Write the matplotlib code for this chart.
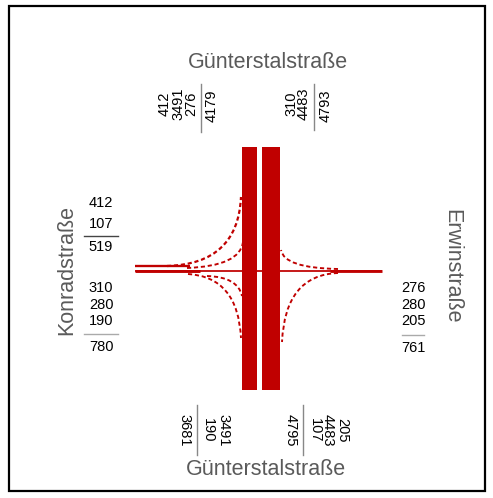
import matplotlib
matplotlib.use("Agg")
from matplotlib import pyplot as plt
from matplotlib.path import Path
from matplotlib.patches import PathPatch, Rectangle

plt.rcParams['font.family'] = ['Liberation Sans', 'DejaVu Sans']
plt.rcParams['lines.scale_dashes'] = False

# street names
street_north = "Günterstalstraße"
street_south = "Günterstalstraße"
street_west = "Konradstraße"
street_east = "Erwinstraße"

# traffic counts per arm
north_out = [412, 3491, 276]      # W->N, S->N, E->N
north_in = [310, 4483]            # N->W, N->S
south_in = [190, 3491]            # S->W, S->N
south_out = [107, 4483, 205]      # W->S, N->S, E->S
west_in = [412, 107]              # W->N, W->S
west_out = [310, 280, 190]        # N->W, E->W, S->W
east_in = [276, 280, 205]         # E->N, E->W, E->S

red = "#c00000"
k = 0.0037   # pixel width per vehicle

fig = plt.figure(figsize=(4.93, 4.98), dpi=100)
ax = fig.add_axes([0, 0, 1, 1])
ax.set_xlim(0, 493)
ax.set_ylim(498, 0)
ax.axis("off")

ax.add_patch(Rectangle((9, 6), 476, 485, fill=False, lw=1.6, ec="black"))

# main north-south bands
top, bottom = 147, 390
w_nb = max(sum(south_in), sum(north_out)) * k
w_sb = max(sum(north_in), sum(south_out)) * k
x_nb = 242
x_sb = 262
ax.fill_between([x_nb, x_nb + w_nb], top, bottom, color=red, lw=0)
ax.fill_between([x_sb, x_sb + w_sb], top, bottom, color=red, lw=0)


def px(v):
    return max(v * k, 1.2) * 0.72


def curve(p0, p1, ctrl, flow):
    path = Path([p0, ctrl, p1], [Path.MOVETO, Path.CURVE3, Path.CURVE3])
    ax.add_patch(PathPatch(path, fill=False, ec=red, lw=px(flow) + 0.5,
                           linestyle=(0, (3, 2))))


# horizontal roads
ax.plot([135, 190], [266, 266], color=red, lw=px(sum(west_in)) + 0.3, solid_capstyle="butt")
ax.plot([135, 382], [271, 271], color=red, lw=px(east_in[1]) + 0.4, solid_capstyle="butt")
ax.plot([135, 200], [271, 271], color=red, lw=px(sum(west_out)), solid_capstyle="butt")
ax.plot([330, 382], [271, 271], color=red, lw=px(sum(east_in)), solid_capstyle="butt")

# turning flows
curve((167, 266), (241, 197), (238, 264), west_in[0])
curve((187, 268), (243, 242), (240, 266), west_out[0])
curve((188, 274), (241, 338), (238, 277), west_out[2])
curve((207, 276), (242, 296), (238, 277), west_in[1])
curve((338, 269), (281, 250), (284, 268), east_in[0])
curve((338, 273), (282, 342), (285, 275), east_in[2])

# street names
grey = "#5a5a5a"
sfs = 15.5
ax.text(268, 62, street_north, fontsize=sfs, color=grey, ha="center", va="center")
ax.text(266, 469, street_south, fontsize=sfs, color=grey, ha="center", va="center")
ax.text(67, 270, street_west, fontsize=sfs, color=grey, ha="center", va="center", rotation=90)
ax.text(452, 266, street_east, fontsize=sfs, color=grey, ha="center", va="center", rotation=270)

fs = 10.5
# top
for x, v in zip([165, 178, 191], north_out):
    ax.text(x, 104, str(v), fontsize=fs, rotation=90, ha="center", va="center")
ax.plot([201, 201], [84, 132], color="#888888", lw=1)
ax.text(212, 106, str(sum(north_out)), fontsize=fs, rotation=90, ha="center", va="center")
for x, v in zip([291, 304], north_in):
    ax.text(x, 104, str(v), fontsize=fs, rotation=90, ha="center", va="center")
ax.plot([314, 314], [84, 130], color="#888888", lw=1)
ax.text(326, 106, str(sum(north_in)), fontsize=fs, rotation=90, ha="center", va="center")

# bottom
ax.text(184, 430, str(sum(south_in)), fontsize=fs, rotation=270, ha="center", va="center")
ax.plot([197, 197], [405, 455], color="#888888", lw=1)
for x, v in zip([208, 223], south_in):
    ax.text(x, 430, str(v), fontsize=fs, rotation=270, ha="center", va="center")
ax.text(291, 430, str(sum(south_out)), fontsize=fs, rotation=270, ha="center", va="center")
ax.plot([303, 303], [405, 455], color="#888888", lw=1)
for x, v in zip([315, 328, 342], south_out):
    ax.text(x, 430, str(v), fontsize=fs, rotation=270, ha="center", va="center")

# west
for y, v in zip([203, 224], west_in):
    ax.text(101, y, str(v), fontsize=fs, ha="center", va="center")
ax.plot([84, 118], [236, 236], color="#444444", lw=1)
ax.text(101, 247, str(sum(west_in)), fontsize=fs, ha="center", va="center")
for y, v in zip([288, 305, 321], west_out):
    ax.text(101, y, str(v), fontsize=fs, ha="center", va="center")
ax.plot([84, 118], [334, 334], color="#aaaaaa", lw=1)
ax.text(101, 347, str(sum(west_out)), fontsize=fs, ha="center", va="center")

# east
for y, v in zip([288, 305, 321], east_in):
    ax.text(413, y, str(v), fontsize=fs, ha="center", va="center")
ax.plot([402, 424], [335, 335], color="#aaaaaa", lw=1)
ax.text(413, 348, str(sum(east_in)), fontsize=fs, ha="center", va="center")

fig.savefig("out.png", dpi=100)
